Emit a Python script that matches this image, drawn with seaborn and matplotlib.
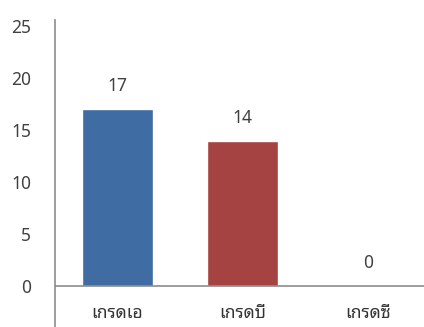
import matplotlib
matplotlib.use("Agg")
import matplotlib.pyplot as plt
import seaborn as sns
import pandas as pd

grades = ["เกรดเอ", "เกรดบี", "เกรดซี"]
counts = [17, 14, 0]
bar_colors = ["#3F6CA2", "#A54343", "#9BBB59"]
y_ticks = [0, 5, 10, 15, 20, 25]

sns.set_theme(style="white")
plt.rcParams["font.family"] = ["Noto Sans Thai Looped", "Noto Sans", "DejaVu Sans"]

df = pd.DataFrame({"grade": grades, "count": counts})

fig = plt.figure(figsize=(4.24, 3.27), dpi=100)
ax = fig.add_axes([55 / 424, 0.0, 1 - 55 / 424, 1 - 20 / 327])

palette = dict(zip(grades, bar_colors))
sns.barplot(data=df, x="grade", y="count", hue="grade", palette=palette,
            width=0.57, saturation=1, legend=False, ax=ax)

ax.set_xlim(-0.5, 2.45)
ax.set_ylim(-3.94, 25.6)
ax.set_xlabel("")
ax.set_ylabel("")

# baseline at zero and the value axis line
ax.axhline(0, color="#8C8C8C", lw=1.2, zorder=3)
for side in ["top", "right", "bottom"]:
    ax.spines[side].set_visible(False)
ax.spines["left"].set_color("#8C8C8C")
ax.spines["left"].set_linewidth(1.2)

ax.set_yticks(y_ticks)
ax.set_yticklabels([str(v) for v in y_ticks])
ax.tick_params(axis="y", length=0, pad=17, labelsize=12.5, labelcolor="#404040")

ax.set_xticks(range(len(grades)))
ax.set_xticklabels(grades)
ax.tick_params(axis="x", length=0, pad=-10, labelsize=12.5, labelcolor="#333333")
for lab in ax.get_xticklabels():
    lab.set_verticalalignment("center")

# value labels above each bar
for i, v in enumerate(counts):
    ax.annotate(str(v), xy=(i, v), xytext=(0, 16.5), textcoords="offset points",
                ha="center", va="center", fontsize=12.5, color="#404040")

fig.savefig("out.png", dpi=100)
